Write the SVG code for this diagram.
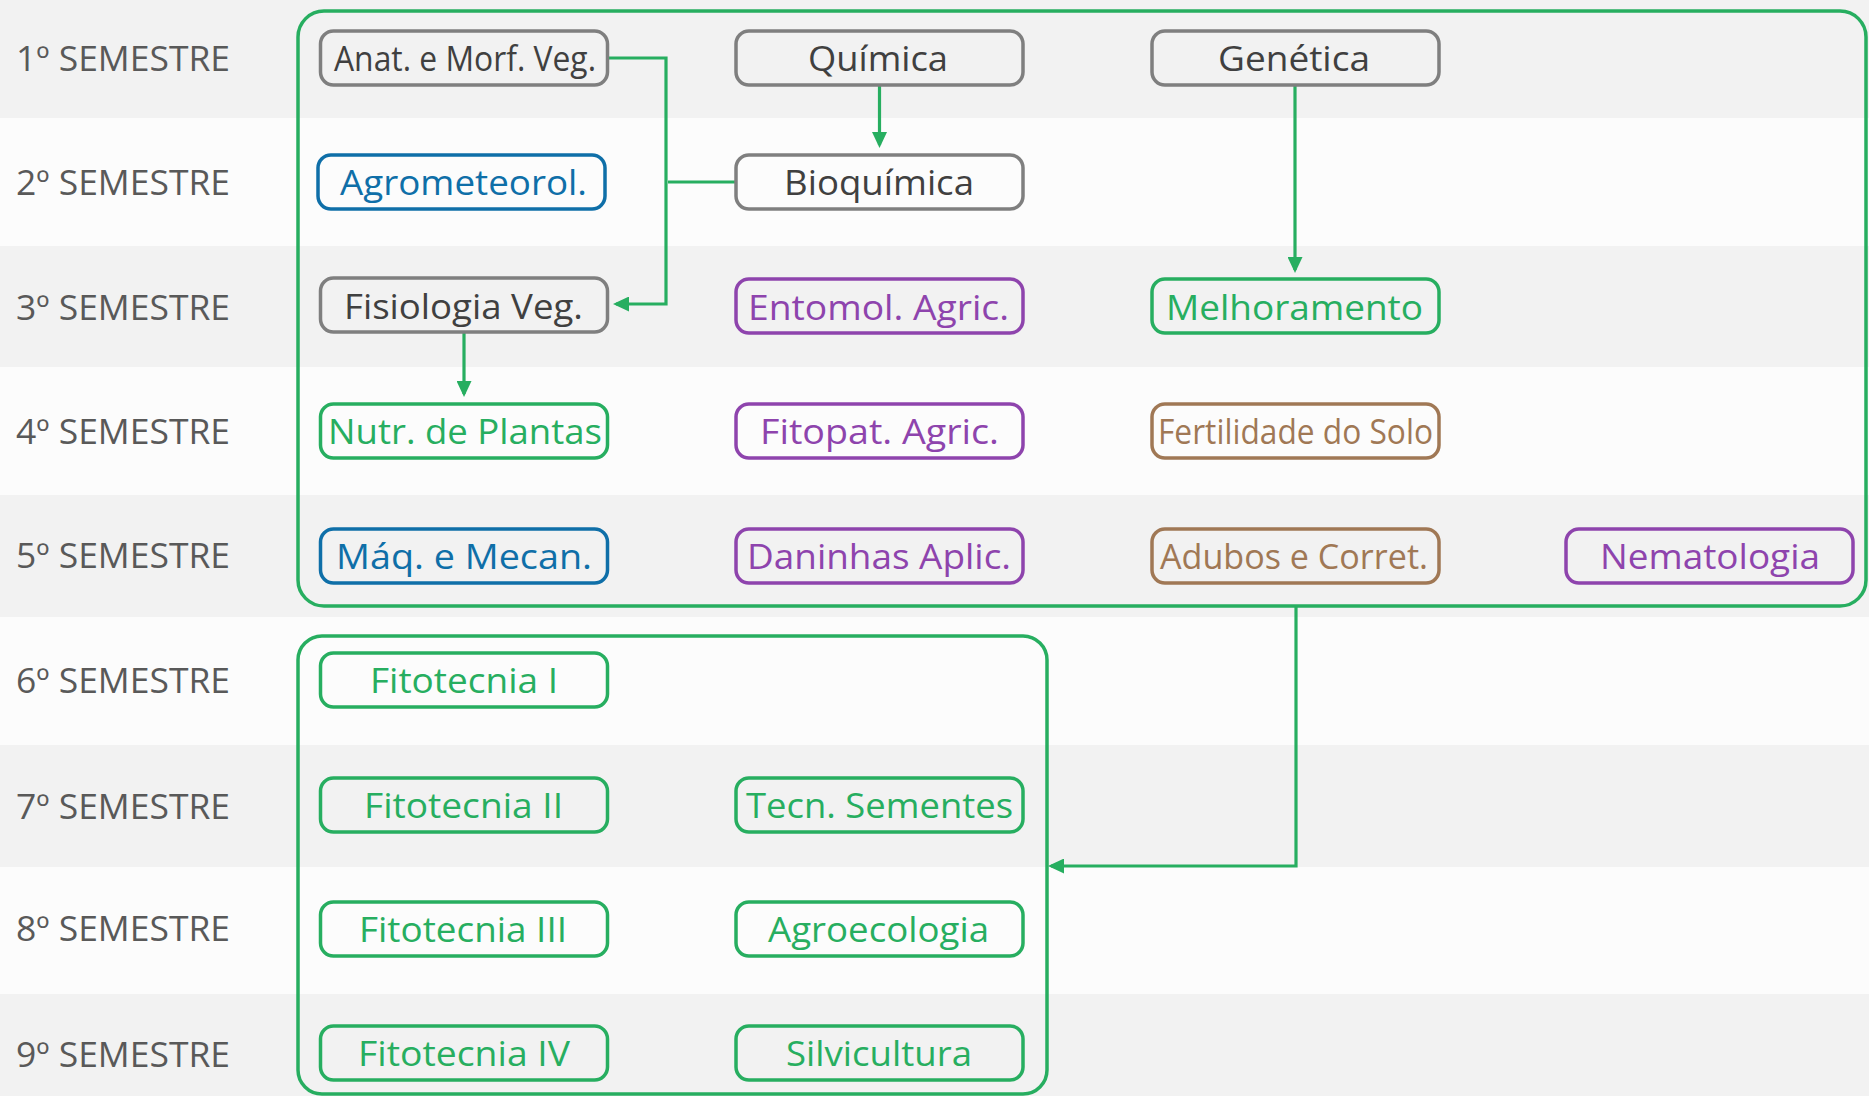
<svg xmlns="http://www.w3.org/2000/svg" width="1869" height="1096" viewBox="0 0 1869 1096">
  <style>
    .band-g { fill: #f2f2f2; }
    .band-w { fill: #fcfcfc; }
    .sem { font-family: "Open Sans", "Noto Sans", sans-serif; font-size: 34px; fill: #595959; }
    .box { fill: none; stroke-width: 3.5; }
    .lbl { font-family: "Open Sans", "Noto Sans", sans-serif; font-size: 35px; text-anchor: middle; }
    .gray .box { stroke: #7f7f7f; } .gray .lbl { fill: #404040; }
    .green .box { stroke: #27ae60; } .green .lbl { fill: #27ae60; }
    .blue .box { stroke: #0f6fa8; } .blue .lbl { fill: #0f6fa8; }
    .purple .box { stroke: #8e44ad; } .purple .lbl { fill: #8e44ad; }
    .brown .box { stroke: #a07855; } .brown .lbl { fill: #a07855; }
    .container { fill: none; stroke: #27ae60; stroke-width: 3.5; }
    .conn { fill: none; stroke: #27ae60; stroke-width: 3.2; }
  </style>
  <defs>
    <marker id="arrow" markerUnits="userSpaceOnUse" markerWidth="16" markerHeight="15" refX="13" refY="7.5" orient="auto">
      <path d="M0,0 L16,7.5 L0,15 z" fill="#27ae60"/>
    </marker>
  </defs>

  <g id="bands">
    <rect class="band-g" x="0" y="0" width="1869" height="118"/>
    <rect class="band-w" x="0" y="118" width="1869" height="128"/>
    <rect class="band-g" x="0" y="246" width="1869" height="121"/>
    <rect class="band-w" x="0" y="367" width="1869" height="128"/>
    <rect class="band-g" x="0" y="495" width="1869" height="122"/>
    <rect class="band-w" x="0" y="617" width="1869" height="128"/>
    <rect class="band-g" x="0" y="745" width="1869" height="122"/>
    <rect class="band-w" x="0" y="867" width="1869" height="127"/>
    <rect class="band-g" x="0" y="994" width="1869" height="102"/>
  </g>

  <g id="semesters">
    <text class="sem" x="16" y="71" textLength="214" lengthAdjust="spacingAndGlyphs">1º SEMESTRE</text>
    <text class="sem" x="16" y="195" textLength="214" lengthAdjust="spacingAndGlyphs">2º SEMESTRE</text>
    <text class="sem" x="16" y="320" textLength="214" lengthAdjust="spacingAndGlyphs">3º SEMESTRE</text>
    <text class="sem" x="16" y="444" textLength="214" lengthAdjust="spacingAndGlyphs">4º SEMESTRE</text>
    <text class="sem" x="16" y="568" textLength="214" lengthAdjust="spacingAndGlyphs">5º SEMESTRE</text>
    <text class="sem" x="16" y="693" textLength="214" lengthAdjust="spacingAndGlyphs">6º SEMESTRE</text>
    <text class="sem" x="16" y="819" textLength="214" lengthAdjust="spacingAndGlyphs">7º SEMESTRE</text>
    <text class="sem" x="16" y="941" textLength="214" lengthAdjust="spacingAndGlyphs">8º SEMESTRE</text>
    <text class="sem" x="16" y="1067" textLength="214" lengthAdjust="spacingAndGlyphs">9º SEMESTRE</text>
  </g>

  <g id="containers">
    <rect id="group-1-5" class="container" x="298" y="11" width="1568" height="595" rx="26"/>
    <rect id="group-6-9" class="container" x="298" y="636" width="749" height="458" rx="24"/>
  </g>

  <g id="connectors">
    <path class="conn" d="M608,58 H666 V304 H616" marker-end="url(#arrow)"/>
    <path class="conn" d="M668,182 H737"/>
    <path class="conn" d="M879.5,85 V145" marker-end="url(#arrow)"/>
    <path class="conn" d="M1295,85 V270" marker-end="url(#arrow)"/>
    <path class="conn" d="M464,331 V394" marker-end="url(#arrow)"/>
    <path class="conn" d="M1296,606 V866 H1051" marker-end="url(#arrow)"/>
  </g>

  <g id="anat" class="gray"><rect class="box" x="320.5" y="31" width="287" height="54" rx="13"/><text class="lbl" x="465" y="71" textLength="262" lengthAdjust="spacingAndGlyphs">Anat. e Morf. Veg.</text></g>
  <g id="quimica" class="gray"><rect class="box" x="736" y="31" width="287" height="54" rx="13"/><text class="lbl" x="878" y="71" textLength="140" lengthAdjust="spacingAndGlyphs">Química</text></g>
  <g id="genetica" class="gray"><rect class="box" x="1152" y="31" width="287" height="54" rx="13"/><text class="lbl" x="1294" y="71" textLength="152" lengthAdjust="spacingAndGlyphs">Genética</text></g>

  <g id="agrometeorol" class="blue"><rect class="box" x="318" y="155" width="287" height="54" rx="13"/><text class="lbl" x="463.5" y="195" textLength="247" lengthAdjust="spacingAndGlyphs">Agrometeorol.</text></g>
  <g id="bioquimica" class="gray"><rect class="box" x="736" y="155" width="287" height="54" rx="13"/><text class="lbl" x="879" y="195" textLength="190" lengthAdjust="spacingAndGlyphs">Bioquímica</text></g>

  <g id="fisiologia" class="gray"><rect class="box" x="320.5" y="278" width="287" height="54" rx="13"/><text class="lbl" x="463.5" y="319" textLength="239" lengthAdjust="spacingAndGlyphs">Fisiologia Veg.</text></g>
  <g id="entomol" class="purple"><rect class="box" x="736" y="279" width="287" height="54" rx="13"/><text class="lbl" x="878.5" y="320" textLength="261" lengthAdjust="spacingAndGlyphs">Entomol. Agric.</text></g>
  <g id="melhoramento" class="green"><rect class="box" x="1152" y="279" width="287" height="54" rx="13"/><text class="lbl" x="1294.5" y="320" textLength="257" lengthAdjust="spacingAndGlyphs">Melhoramento</text></g>

  <g id="nutr" class="green"><rect class="box" x="320.5" y="404" width="287" height="54" rx="13"/><text class="lbl" x="465" y="444" textLength="274" lengthAdjust="spacingAndGlyphs">Nutr. de Plantas</text></g>
  <g id="fitopat" class="purple"><rect class="box" x="736" y="404" width="287" height="54" rx="13"/><text class="lbl" x="879.5" y="444" textLength="239" lengthAdjust="spacingAndGlyphs">Fitopat. Agric.</text></g>
  <g id="fertilidade" class="brown"><rect class="box" x="1152" y="404" width="287" height="54" rx="13"/><text class="lbl" x="1295.5" y="444" textLength="275" lengthAdjust="spacingAndGlyphs">Fertilidade do Solo</text></g>

  <g id="maq" class="blue"><rect class="box" x="320.5" y="529" width="287" height="54" rx="13"/><text class="lbl" x="464" y="569" textLength="256" lengthAdjust="spacingAndGlyphs">Máq. e Mecan.</text></g>
  <g id="daninhas" class="purple"><rect class="box" x="736" y="529" width="287" height="54" rx="13"/><text class="lbl" x="879" y="569" textLength="264" lengthAdjust="spacingAndGlyphs">Daninhas Aplic.</text></g>
  <g id="adubos" class="brown"><rect class="box" x="1152" y="529" width="287" height="54" rx="13"/><text class="lbl" x="1294" y="569" textLength="268" lengthAdjust="spacingAndGlyphs">Adubos e Corret.</text></g>
  <g id="nematologia" class="purple"><rect class="box" x="1566" y="529" width="287" height="54" rx="13"/><text class="lbl" x="1710" y="569" textLength="220" lengthAdjust="spacingAndGlyphs">Nematologia</text></g>

  <g id="fitotecnia1" class="green"><rect class="box" x="320.5" y="653" width="287" height="54" rx="13"/><text class="lbl" x="464" y="693" textLength="188" lengthAdjust="spacingAndGlyphs">Fitotecnia I</text></g>

  <g id="fitotecnia2" class="green"><rect class="box" x="320.5" y="778" width="287" height="54" rx="13"/><text class="lbl" x="463.5" y="818" textLength="199" lengthAdjust="spacingAndGlyphs">Fitotecnia II</text></g>
  <g id="sementes" class="green"><rect class="box" x="736" y="778" width="287" height="54" rx="13"/><text class="lbl" x="879.5" y="818" textLength="267" lengthAdjust="spacingAndGlyphs">Tecn. Sementes</text></g>

  <g id="fitotecnia3" class="green"><rect class="box" x="320.5" y="902" width="287" height="54" rx="13"/><text class="lbl" x="463" y="942" textLength="208" lengthAdjust="spacingAndGlyphs">Fitotecnia III</text></g>
  <g id="agroecologia" class="green"><rect class="box" x="736" y="902" width="287" height="54" rx="13"/><text class="lbl" x="878.5" y="942" textLength="221" lengthAdjust="spacingAndGlyphs">Agroecologia</text></g>

  <g id="fitotecnia4" class="green"><rect class="box" x="320.5" y="1026" width="287" height="54" rx="13"/><text class="lbl" x="464" y="1066" textLength="212" lengthAdjust="spacingAndGlyphs">Fitotecnia IV</text></g>
  <g id="silvicultura" class="green"><rect class="box" x="736" y="1026" width="287" height="54" rx="13"/><text class="lbl" x="879" y="1066" textLength="186" lengthAdjust="spacingAndGlyphs">Silvicultura</text></g>
</svg>
